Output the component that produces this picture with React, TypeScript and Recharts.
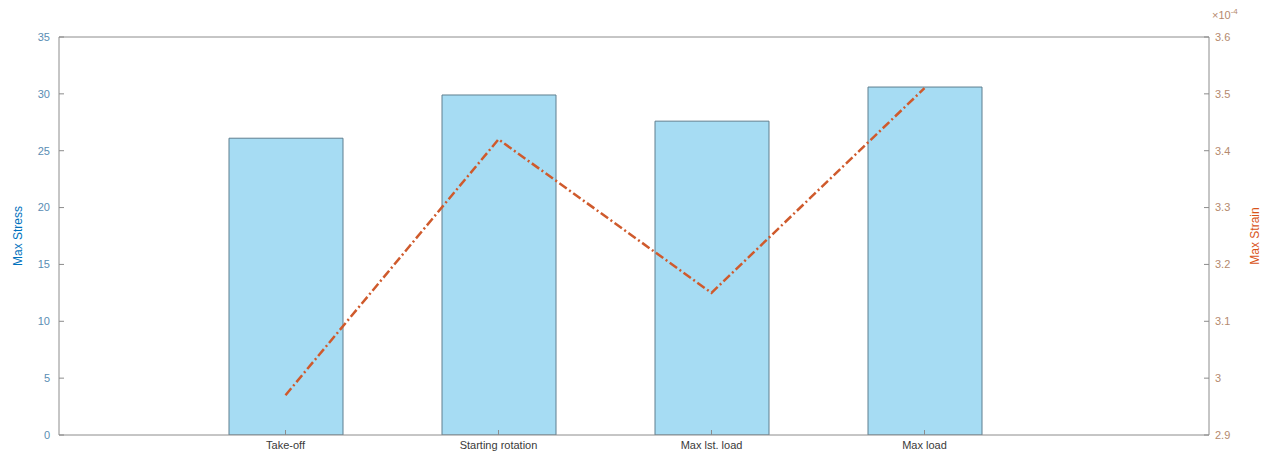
import React from 'react';
import { ComposedChart, Bar, Line, XAxis, YAxis, ReferenceLine } from 'recharts';

// Flight phases compared in the study
const phases = ['Take-off', 'Starting rotation', 'Max lst. load', 'Max load'];
// Peak stress per phase (left axis)
const maxStress = [26.1, 29.9, 27.6, 30.6];
// Peak strain per phase (right axis)
const maxStrain = [2.97e-4, 3.42e-4, 3.15e-4, 3.51e-4];

const stressTicks = [0, 5, 10, 15, 20, 25, 30, 35];
const strainTicks = [2.9e-4, 3.0e-4, 3.1e-4, 3.2e-4, 3.3e-4, 3.4e-4, 3.5e-4, 3.6e-4];

const data = phases.map((phase, i) => ({
  phase,
  stress: maxStress[i],
  strain: maxStrain[i],
}));

const FONT = 'Liberation Sans, Arial, Helvetica, sans-serif';
const AXIS_GRAY = '#8c8c8c';
const BLUE = '#0072BD';
const ORANGE = '#D95319';

const fmtStrain = (v: number) => String(Number((v * 1e4).toFixed(1)));

export default function App() {
  return (
    <div style={{ position: 'absolute', left: 0, top: 0, width: 1270, height: 461, background: '#fff', fontFamily: FONT }}>
      <ComposedChart
        width={1270}
        height={461}
        data={data}
        margin={{ top: 37, right: 0, bottom: 0, left: 0 }}
        barSize={114}
      >
        <XAxis
          dataKey="phase"
          height={26}
          padding={{ left: 120, right: 178 }}
          stroke={AXIS_GRAY}
          tickSize={-5}
          tickMargin={11}
          tick={{ fill: '#3a3a3a', fontSize: 11, fontFamily: FONT }}
          interval={0}
        />
        <YAxis
          yAxisId="left"
          orientation="left"
          width={59}
          domain={[0, 35]}
          ticks={stressTicks}
          allowDataOverflow
          stroke={AXIS_GRAY}
          tickSize={-5}
          tickMargin={14}
          tick={{ fill: '#5a8db3', fontSize: 11, fontFamily: FONT }}
          label={{
            value: 'Max Stress',
            angle: -90,
            position: 'insideLeft',
            offset: 18,
            style: { textAnchor: 'middle', fill: BLUE, fontSize: 12, fontFamily: FONT },
          }}
        />
        <YAxis
          yAxisId="right"
          orientation="right"
          width={61}
          domain={[2.9e-4, 3.6e-4]}
          ticks={strainTicks}
          allowDataOverflow
          tickFormatter={fmtStrain}
          stroke={AXIS_GRAY}
          tickSize={-5}
          tickMargin={11}
          tick={{ fill: '#b58a6e', fontSize: 11, fontFamily: FONT }}
          label={{
            value: 'Max Strain',
            angle: -90,
            position: 'insideRight',
            offset: 15,
            style: { textAnchor: 'middle', fill: ORANGE, fontSize: 12, fontFamily: FONT },
          }}
        />
        <ReferenceLine yAxisId="left" y={35} stroke={AXIS_GRAY} strokeWidth={1} />
        <Bar
          yAxisId="left"
          dataKey="stress"
          fill="#a6dcf3"
          stroke="#5f7f8f"
          strokeWidth={1}
          isAnimationActive={false}
        />
        <Line
          yAxisId="right"
          dataKey="strain"
          type="linear"
          stroke="#cf5a2c"
          strokeWidth={2.5}
          strokeDasharray="9 3 2 3"
          dot={false}
          activeDot={false}
          isAnimationActive={false}
        />
      </ComposedChart>
      <div
        style={{
          position: 'absolute',
          left: 1212,
          top: 6,
          fontSize: 11,
          color: '#b58a6e',
          fontFamily: FONT,
          lineHeight: '12px',
        }}
      >
        ×10<sup style={{ fontSize: 8 }}>-4</sup>
      </div>
    </div>
  );
}
